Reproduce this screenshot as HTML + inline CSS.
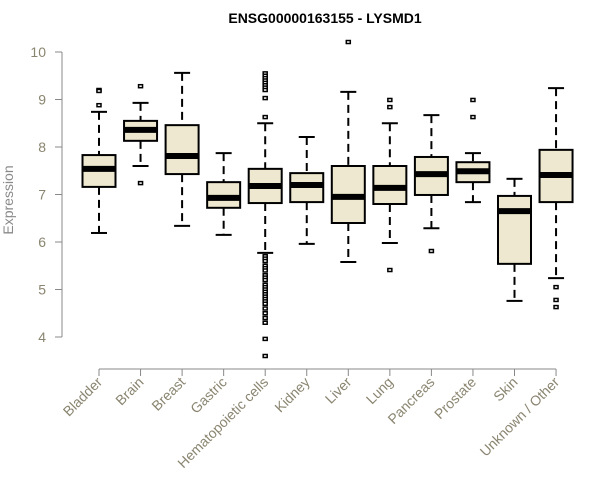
<!DOCTYPE html>
<html><head><meta charset="utf-8"><style>body{margin:0;background:#fff}svg{display:block;font-family:"Liberation Sans",sans-serif}</style></head>
<body>
<svg id="chart" width="600" height="500">
<text x="325" y="23" text-anchor="middle" font-weight="bold" font-size="14">ENSG00000163155 - LYSMD1</text>
<text transform="translate(13,200) rotate(-90)" text-anchor="middle" font-size="14" fill="#8a8a8a">Expression</text>
<g id="axes"></g><g id="boxes"></g>
</svg>
<script>
const categories=["Bladder","Brain","Breast","Gastric","Hematopoietic cells","Kidney","Liver","Lung","Pancreas","Prostate","Skin","Unknown / Other"];
const lowW=[6.19,7.6,6.34,6.15,5.77,5.96,5.58,5.98,6.29,6.84,4.76,5.24];
const q1=[7.16,8.13,7.43,6.72,6.82,6.84,6.4,6.8,6.99,7.26,5.54,6.84];
const med=[7.54,8.36,7.81,6.93,7.18,7.2,6.95,7.14,7.43,7.49,6.65,7.41];
const q3=[7.83,8.55,8.46,7.26,7.54,7.45,7.6,7.6,7.79,7.68,6.97,7.94];
const highW=[8.74,8.93,9.56,7.87,8.5,8.21,9.16,8.5,8.67,7.87,7.33,9.24];
const outliers=[[9.2,9.18,8.88],[9.28,7.24],[],[],[9.55,9.5,9.45,9.4,9.35,9.3,9.25,9.2,9.03,8.63,5.7,5.65,5.6,5.5,5.45,5.4,5.3,5.25,5.2,5.1,5.05,5.0,4.95,4.9,4.85,4.8,4.75,4.7,4.6,4.5,4.4,4.3,3.96,3.6],[],[10.21],[8.99,8.84,5.41],[5.81],[8.99,8.63],[],[5.05,4.78,4.63]];
const yTicks=[4,5,6,7,8,9,10];
const NS="http://www.w3.org/2000/svg";
const y=v=>337-(v-4)*47.5;
const x=i=>99+i*41.55;
function mk(t,a,p){const e=document.createElementNS(NS,t);for(const k in a)e.setAttribute(k,a[k]);p.appendChild(e);return e;}
const ax=document.getElementById('axes'),bx=document.getElementById('boxes');
let l=mk('line',{x1:62,x2:62,y1:y(yTicks[0]),y2:y(yTicks[yTicks.length-1]),stroke:'#888'},ax);


yTicks.forEach(v=>{mk('line',{x1:55,x2:62,y1:y(v),y2:y(v),stroke:'#888'},ax);
const t=mk('text',{x:46,y:y(v)+5,'text-anchor':'end','font-size':14,fill:'#8a8570'},ax);t.textContent=v;

});
l=mk('line',{x1:x(0),x2:x(categories.length-1),y1:369,y2:369,stroke:'#888'},ax);


categories.forEach((c,i)=>{const cx=x(i);
mk('line',{x1:cx,x2:cx,y1:369,y2:376,stroke:'#888'},ax);
const t=mk('text',{transform:`translate(${cx+4},${383}) rotate(-45)`,'text-anchor':'end','font-size':14,fill:'#8a8570'},ax);t.textContent=c;


const g=mk('g',{},bx);


const st={stroke:'#000','stroke-width':2};
mk('line',Object.assign({x1:cx,x2:cx,y1:y(highW[i]),y2:y(q3[i]),'stroke-dasharray':'8,5'},st),g);
mk('line',Object.assign({x1:cx,x2:cx,y1:y(q1[i]),y2:y(lowW[i]),'stroke-dasharray':'8,5'},st),g);
mk('line',Object.assign({x1:cx-8,x2:cx+8,y1:y(highW[i]),y2:y(highW[i])},st),g);
mk('line',Object.assign({x1:cx-8,x2:cx+8,y1:y(lowW[i]),y2:y(lowW[i])},st),g);
mk('rect',Object.assign({x:cx-16.5,width:33,y:y(q3[i]),height:y(q1[i])-y(q3[i]),fill:'#ede8cf'},st),g);
mk('line',{x1:cx-16.5,x2:cx+16.5,y1:y(med[i]),y2:y(med[i]),stroke:'#000','stroke-width':6},g);
outliers[i].forEach(o=>mk('rect',{x:cx-2,y:y(o)-1.5,width:4,height:3,fill:'#fff',stroke:'#000','stroke-width':1.5},g));
});
</script>
</body></html>
